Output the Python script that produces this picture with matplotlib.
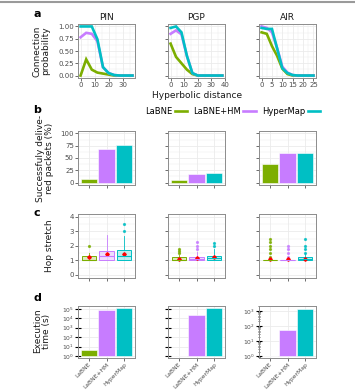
import numpy as np
import matplotlib
matplotlib.use('Agg')
import matplotlib.pyplot as plt
from matplotlib.lines import Line2D
from matplotlib.ticker import AutoMinorLocator, LogLocator, FixedLocator, NullFormatter

W, H = 355, 390

NETWORKS = ['PIN', 'PGP', 'AIR']
METHODS = ['LaBNE', 'LaBNE+HM', 'HyperMap']
COLORS = ['#7CAE00', '#C77CFF', '#00BFC4']

# --- a: connection probability vs hyperbolic distance
dist_pin = [0, 4, 8, 12, 16, 20, 24, 28, 32, 37]
prob_pin = {
    'LaBNE':    [0.00, 0.33, 0.12, 0.06, 0.04, 0.02, 0.00, 0.00, 0.00, 0.00],
    'LaBNE+HM': [0.78, 0.87, 0.85, 0.70, 0.17, 0.05, 0.01, 0.00, 0.00, 0.00],
    'HyperMap': [1.00, 1.00, 1.00, 0.74, 0.17, 0.05, 0.01, 0.00, 0.00, 0.00],
}
dist_pgp = [0, 4, 8, 12, 16, 20, 24, 28, 32, 38]
prob_pgp = {
    'LaBNE':    [0.65, 0.38, 0.25, 0.12, 0.03, 0.00, 0.00, 0.00, 0.00, 0.00],
    'LaBNE+HM': [0.85, 0.92, 0.84, 0.40, 0.05, 0.00, 0.00, 0.00, 0.00, 0.00],
    'HyperMap': [0.97, 1.00, 0.88, 0.40, 0.05, 0.00, 0.00, 0.00, 0.00, 0.00],
}
dist_air = [0, 2.5, 5, 7.5, 10, 12.5, 15, 17.5, 20, 22.5, 25]
prob_air = {
    'LaBNE':    [0.88, 0.85, 0.60, 0.40, 0.14, 0.03, 0.00, 0.00, 0.00, 0.00, 0.00],
    'LaBNE+HM': [1.00, 0.97, 0.88, 0.56, 0.18, 0.06, 0.01, 0.00, 0.00, 0.00, 0.00],
    'HyperMap': [0.97, 0.95, 0.95, 0.55, 0.15, 0.05, 0.01, 0.00, 0.00, 0.00, 0.00],
}
dist_xlim = [(-1.85, 38.85), (-1.9, 39.9), (-1.25, 26.25)]
dist_ticks = [[0, 10, 20, 30], [0, 10, 20, 30, 40], [0, 5, 10, 15, 20, 25]]

# --- b: successfully delivered packets (%)
delivered = {
    'PIN': [7, 68, 77],
    'PGP': [5, 17, 20],
    'AIR': [37, 61, 61],
}

# --- c: hop stretch box statistics (per network, per method)
hop_q1 = {'PIN': [1.0, 1.0, 1.0], 'PGP': [1.0, 1.0, 1.0], 'AIR': [1.0, 1.0, 1.0]}
hop_med = {'PIN': [1.0, 1.33, 1.33], 'PGP': [1.0, 1.12, 1.15], 'AIR': [1.0, 1.0, 1.1]}
hop_q3 = {'PIN': [1.33, 1.67, 1.7], 'PGP': [1.2, 1.25, 1.33], 'AIR': [1.05, 1.05, 1.25]}
hop_wlo = {'PIN': [1.0, 1.0, 1.0], 'PGP': [1.0, 1.0, 1.0], 'AIR': [1.0, 1.0, 1.0]}
hop_whi = {'PIN': [1.5, 2.75, 2.67], 'PGP': [1.4, 1.6, 1.75], 'AIR': [1.1, 1.1, 1.5]}
hop_mean = {'PIN': [1.2, 1.42, 1.42], 'PGP': [1.1, 1.17, 1.2], 'AIR': [1.08, 1.07, 1.12]}
hop_out = {
    'PIN': [[2.0], [], [3.0, 3.5]],
    'PGP': [[1.5, 1.67, 1.75], [1.75, 2.0, 2.25], [2.0, 2.2]],
    'AIR': [[1.25, 1.5, 1.75, 2.0, 2.25, 2.5], [1.25, 1.5, 1.75, 2.0], [1.5, 1.75, 2.0, 2.5]],
}

# --- d: execution time (s)
exec_time = {
    'PIN': [4.0, 80000, 126000],
    'PGP': [1.05, 25000, 126000],
    'AIR': [1.0, 56, 1400],
}
exec_ylim = [(0.63, 2.0e5), (0.63, 2.0e5), (0.74, 2150)]
exec_ticks = [[1, 10, 100, 1e3, 1e4, 1e5], [1, 10, 100, 1e3, 1e4, 1e5], [1, 10, 100, 1e3]]

PROB = [(dist_pin, prob_pin), (dist_pgp, prob_pgp), (dist_air, prob_air)]

TXT = '#4D4D4D'
BORDER = '#8C8C8C'
GRID = '#EBEBEB'


def px(left, top, right, bottom):
    return [left / W, 1 - bottom / H, (right - left) / W, (bottom - top) / H]


def style(ax):
    ax.set_facecolor('white')
    for s in ax.spines.values():
        s.set_color(BORDER)
        s.set_linewidth(0.7)
    ax.tick_params(which='major', length=2, width=0.5, color='#333333',
                   labelsize=5, labelcolor=TXT, pad=1)
    ax.tick_params(which='minor', length=0)
    ax.grid(True, which='major', color=GRID, linewidth=0.6)
    ax.grid(True, which='minor', color=GRID, linewidth=0.3)
    ax.set_axisbelow(True)


fig = plt.figure(figsize=(W / 100, H / 100), dpi=100)
fig.add_artist(Line2D([0, 1], [0.996, 0.996], color='#9A9A9A', lw=1.5))

lefts = [78, 168, 259]
pw = 57
rows = {'a': (24, 78), 'b': (131, 185), 'c': (214, 278), 'd': (306, 358)}
xpos = np.arange(1, 4)

for j, net in enumerate(NETWORKS):
    l = lefts[j]
    # a
    ax = fig.add_axes(px(l, rows['a'][0], l + pw, rows['a'][1]))
    style(ax)
    dist, prob = PROB[j]
    for m, c in zip(METHODS, COLORS):
        ax.plot(dist, prob[m], color=c, lw=1.9, solid_joinstyle='miter')
    ax.set_xlim(*dist_xlim[j])
    ax.set_ylim(-0.05, 1.05)
    ax.set_xticks(dist_ticks[j])
    ax.set_yticks([0, 0.25, 0.5, 0.75, 1.0])
    ax.xaxis.set_minor_locator(AutoMinorLocator(2))
    ax.yaxis.set_minor_locator(AutoMinorLocator(2))
    if j == 0:
        ax.set_yticklabels(['0.00', '0.25', '0.50', '0.75', '1.00'])
    else:
        ax.set_yticklabels([])
    ax.set_title(net, fontsize=6.5, color='#1A1A1A', pad=3)

    # b
    ax = fig.add_axes(px(l, rows['b'][0], l + pw, rows['b'][1]))
    style(ax)
    ax.bar(xpos, delivered[net], width=0.9, color=COLORS, edgecolor='white', linewidth=0.4)
    ax.set_xlim(0.4, 3.6)
    ax.set_ylim(-5, 105)
    ax.set_xticks(xpos)
    ax.set_xticklabels([])
    ax.set_yticks([0, 25, 50, 75, 100])
    ax.yaxis.set_minor_locator(AutoMinorLocator(2))
    if j > 0:
        ax.set_yticklabels([])

    # c
    ax = fig.add_axes(px(l, rows['c'][0], l + pw, rows['c'][1]))
    style(ax)
    stats = []
    for k in range(3):
        stats.append(dict(q1=hop_q1[net][k], med=hop_med[net][k], q3=hop_q3[net][k],
                          whislo=hop_wlo[net][k], whishi=hop_whi[net][k],
                          mean=hop_mean[net][k], fliers=hop_out[net][k]))
    for k, c in enumerate(COLORS):
        ax.bxp([stats[k]], positions=[xpos[k]], widths=0.8, patch_artist=True,
               showmeans=False, showcaps=False,
               boxprops=dict(facecolor=matplotlib.colors.to_rgba(c, 0.25), edgecolor=c, linewidth=0.7),
               medianprops=dict(color=c, linewidth=0.8),
               whiskerprops=dict(color=c, linewidth=0.6),
               flierprops=dict(marker='o', markersize=1.3, markerfacecolor=c,
                               markeredgecolor=c, alpha=0.8))
    ax.plot(xpos, hop_mean[net], 'D', color='#FF0000', markersize=1.8, linestyle='none')
    ax.set_xlim(0.4, 3.6)
    ax.set_ylim(-0.22, 4.2)
    ax.set_xticks(xpos)
    ax.set_xticklabels([])
    ax.set_yticks([0, 1, 2, 3, 4])
    ax.yaxis.set_minor_locator(AutoMinorLocator(2))
    if j > 0:
        ax.set_yticklabels([])

    # d
    ax = fig.add_axes(px(l, rows['d'][0], l + pw, rows['d'][1]))
    style(ax)
    ax.set_yscale('log')
    vals = np.array(exec_time[net])
    ax.bar(xpos, vals - 1, bottom=1, width=0.9, color=COLORS, edgecolor='white', linewidth=0.4)
    ax.set_xlim(0.4, 3.6)
    ax.set_ylim(*exec_ylim[j])
    ax.set_xticks(xpos)
    ax.set_xticklabels(METHODS, rotation=45, ha='right', rotation_mode='anchor', fontsize=4.3)
    ax.tick_params(axis='x', pad=0.5)
    ax.yaxis.set_major_locator(FixedLocator(exec_ticks[j]))
    ax.yaxis.set_minor_locator(LogLocator(base=10, subs=np.arange(2, 10)))
    ax.yaxis.set_minor_formatter(NullFormatter())
    ax.grid(False, which='minor')
    ax.tick_params(axis='y', which='major', length=4, width=0.8, color='black',
                   direction='inout', labelsize=4.3)
    ax.tick_params(axis='y', which='minor', length=2, width=0.4, color='black', direction='inout')
    if j == 1:
        ax.set_yticklabels([])
    else:
        ax.set_yticklabels([f'$10^{{{int(np.log10(t))}}}$' for t in exec_ticks[j]])

# labels
for letter, y in zip('abcd', [14, 110, 213, 298]):
    fig.text(37 / W, 1 - y / H, letter, fontsize=8, fontweight='bold', ha='center', va='center')

fig.text(41 / W, 1 - 51 / H, 'Connection\nprobability', rotation=90, fontsize=6.5,
         ha='center', va='center', color='#1A1A1A', linespacing=1.0)
fig.text(45 / W, 1 - 158 / H, 'Successfuly delive-\nred packets (%)', rotation=90, fontsize=6.5,
         ha='center', va='center', color='#1A1A1A', linespacing=1.0)
fig.text(50 / W, 1 - 246 / H, 'Hop stretch', rotation=90, fontsize=6.5,
         ha='center', va='center', color='#1A1A1A')
fig.text(42 / W, 1 - 331 / H, 'Execution\ntime (s)', rotation=90, fontsize=6.5,
         ha='center', va='center', color='#1A1A1A', linespacing=1.0)
fig.text(197 / W, 1 - 96 / H, 'Hyperbolic distance', fontsize=6.5,
         ha='center', va='center', color='#1A1A1A')

handles = [Line2D([], [], color=c, lw=1.9) for c in COLORS]
fig.legend(handles, METHODS, loc='center right', bbox_to_anchor=(320 / W, 1 - 111 / H),
           ncol=3, frameon=False, markerfirst=False, fontsize=6, handlelength=1.5,
           handletextpad=0.3, columnspacing=0.7, borderpad=0, borderaxespad=0)

fig.savefig('out.png', dpi=100, facecolor='white')
